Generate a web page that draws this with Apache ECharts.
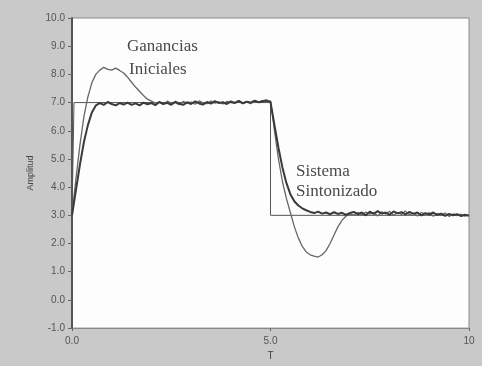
<!DOCTYPE html>
<html>
<head>
<meta charset="utf-8">
<script src="https://cdn.jsdelivr.net/npm/echarts@6/dist/echarts.min.js"></script>
<style>
html,body{margin:0;padding:0;background:#c9c9c9;}
#c{width:482px;height:366px;}
</style>
</head>
<body>
<div id="c"></div>
<script>
// Time grid step (T)
var tStep = 0.1;
// Ganancias Iniciales
var ganancias = [
3.0,4.3,5.5,6.5,7.2,7.7,8.0,8.15,8.25,8.18,
8.15,8.22,8.14,8.05,7.9,7.72,7.55,7.4,7.25,7.12,
7.05,6.98,7.02,6.95,7.05,6.97,7.0,6.93,7.04,6.98,
7.02,6.94,7.06,6.99,6.96,7.05,6.98,7.03,6.95,7.04,
7.0,6.97,7.06,6.99,7.02,6.96,7.05,7.01,7.07,7.03,
7.05,6.0,5.0,4.2,3.6,3.1,2.6,2.2,1.9,1.7,
1.6,1.55,1.52,1.6,1.75,2.0,2.3,2.6,2.82,2.97,
3.05,3.0,3.1,3.02,3.12,3.04,3.1,2.98,3.12,3.05,
3.14,3.0,3.1,3.03,3.15,3.02,3.08,2.98,3.1,3.04,
3.09,2.97,3.06,3.0,3.08,2.96,3.05,2.99,3.04,2.97,
3.02
];
// Sistema Sintonizado
var sintonizado = [
3.0,3.9,4.8,5.6,6.2,6.65,6.9,6.98,6.92,7.02,
6.95,6.9,6.98,6.93,7.0,6.92,6.97,6.9,7.0,6.94,
6.98,6.91,7.02,6.95,6.99,6.92,7.03,6.96,6.92,7.01,
6.95,7.04,6.97,6.93,7.02,6.96,7.05,6.98,7.01,6.95,
7.04,6.99,7.06,6.97,7.03,7.0,7.07,7.01,7.05,7.08,
7.02,6.2,5.4,4.7,4.15,3.75,3.5,3.35,3.25,3.18,
3.12,3.08,3.13,3.06,3.1,3.04,3.11,3.05,3.09,3.02,
3.08,3.12,3.04,3.1,3.0,3.13,3.05,3.15,3.06,3.1,
3.02,3.14,3.07,3.11,3.03,3.12,3.05,3.1,3.0,3.08,
3.03,3.1,3.02,3.06,2.98,3.05,3.0,3.04,2.97,3.02,
2.98
];
// Reference step
var stepT = [0, 0.05, 0.05, 5, 5, 10];
var stepV = [3, 3, 7, 7, 3, 3];

function pairs(vals){ return vals.map(function(v,i){ return [Math.round(i*tStep*100)/100, v]; }); }
var stepData = stepT.map(function(t,i){ return [t, stepV[i]]; });

var chart = echarts.init(document.getElementById('c'));
chart.setOption({
  backgroundColor: '#c9c9c9',
  animation: false,
  grid: {left: 72, right: 13, top: 18, bottom: 34, show: true, backgroundColor: '#fdfdfd', borderColor: '#8a8a8a', borderWidth: 1},
  xAxis: {
    type: 'value', min: 0, max: 10, interval: 5,
    name: 'T', nameLocation: 'middle', nameGap: 22,
    nameTextStyle: {color: '#444', fontSize: 10, fontFamily: 'Liberation Sans'},
    axisLine: {show: true, onZero: false, lineStyle: {color: '#888', width: 1}},
    axisTick: {show: true, length: 3, inside: false, lineStyle: {color: '#666'}},
    axisLabel: {color: '#555', fontSize: 10, fontFamily: 'Liberation Sans', margin: 8,
      formatter: function(v){ return v === 10 ? '10' : v.toFixed(1); }},
    splitLine: {show: false}
  },
  yAxis: {
    type: 'value', min: -1, max: 10, interval: 1,
    name: 'Amplitud', nameLocation: 'middle', nameGap: 36, nameRotate: 90,
    nameTextStyle: {color: '#444', fontSize: 9, fontFamily: 'Liberation Sans'},
    axisLine: {show: true, onZero: false, lineStyle: {color: '#555', width: 2}},
    axisTick: {show: true, length: 4, lineStyle: {color: '#666'}},
    axisLabel: {color: '#555', fontSize: 10, fontFamily: 'Liberation Sans', margin: 7,
      formatter: function(v){ return v.toFixed(1); }},
    splitLine: {show: false}
  },
  series: [
    {name: 'Referencia', type: 'line', data: stepData, symbol: 'none',
     lineStyle: {color: '#555', width: 1}, z: 2},
    {name: 'Ganancias Iniciales', type: 'line', data: pairs(ganancias), symbol: 'none',
     lineStyle: {color: '#666', width: 1.3}, z: 3},
    {name: 'Sistema Sintonizado', type: 'line', data: pairs(sintonizado), symbol: 'none',
     lineStyle: {color: '#3a3a3a', width: 2}, z: 4}
  ],
  graphic: [
    {type: 'text', left: 127, top: 38, style: {text: 'Ganancias', font: '17px "Liberation Serif"', fill: '#4a4a4a'}},
    {type: 'text', left: 129, top: 61, style: {text: 'Iniciales', font: '17px "Liberation Serif"', fill: '#4a4a4a'}},
    {type: 'text', left: 296, top: 163, style: {text: 'Sistema', font: '17px "Liberation Serif"', fill: '#4a4a4a'}},
    {type: 'text', left: 296, top: 183, style: {text: 'Sintonizado', font: '17px "Liberation Serif"', fill: '#4a4a4a'}}
  ]
});
</script>
</body>
</html>
